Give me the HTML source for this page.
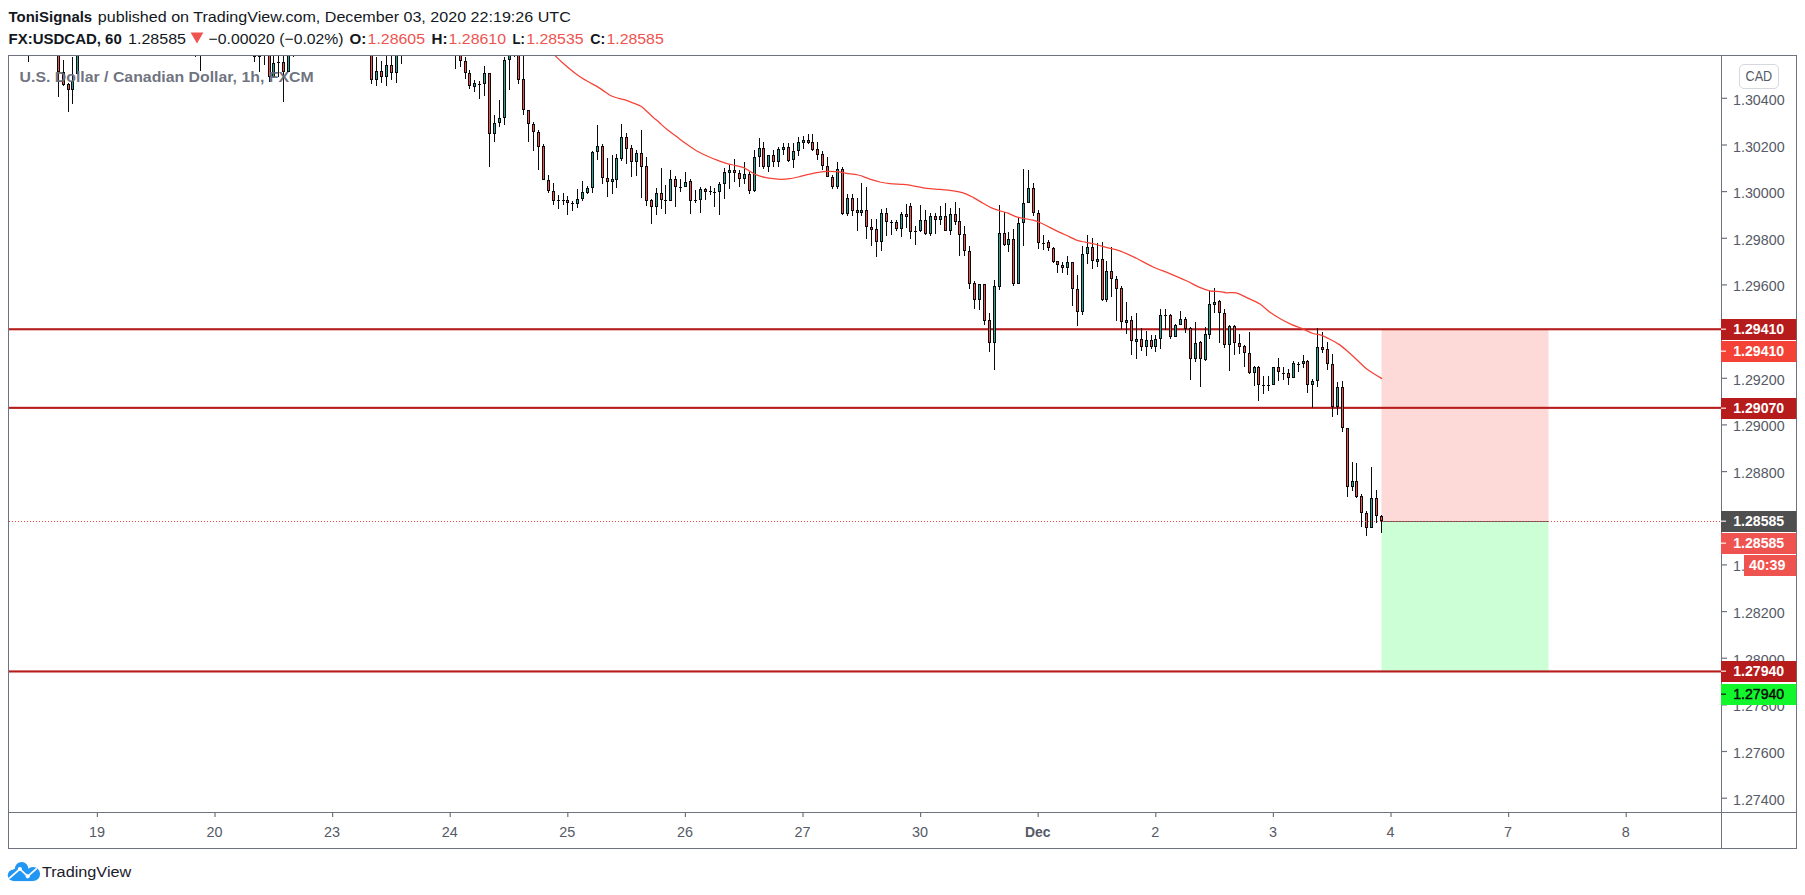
<!DOCTYPE html>
<html lang="en"><head><meta charset="utf-8"><title>USDCAD chart</title>
<style>html,body{margin:0;padding:0;background:#fff;}body{width:1805px;height:895px;overflow:hidden;}svg{display:block;}text{font-family:"Liberation Sans",sans-serif;}</style></head><body>
<svg width="1805" height="895" viewBox="0 0 1805 895">
<rect x="0" y="0" width="1805" height="895" fill="#fff"/>
<text x="8.6" y="22" font-size="15.0" fill="#131722" font-weight="bold" textLength="83.6" lengthAdjust="spacingAndGlyphs">ToniSignals</text>
<text x="97.8" y="22" font-size="15.0" fill="#131722" textLength="473" lengthAdjust="spacingAndGlyphs">published on TradingView.com, December 03, 2020 22:19:26 UTC</text>
<text x="8.6" y="43.5" font-size="15.0" fill="#131722" font-weight="bold" textLength="113.2" lengthAdjust="spacingAndGlyphs">FX:USDCAD, 60</text>
<text x="128" y="43.5" font-size="15.0" fill="#131722" textLength="58" lengthAdjust="spacingAndGlyphs">1.28585</text>
<path d="M190.6 32.6 L203.4 32.6 L197 43.6 Z" fill="#ef5350"/>
<text x="208.6" y="43.5" font-size="15.0" fill="#131722" textLength="135" lengthAdjust="spacingAndGlyphs">−0.00020 (−0.02%)</text>
<text x="349.4" y="43.5" font-size="15.0" fill="#131722" font-weight="bold" textLength="16.8" lengthAdjust="spacingAndGlyphs">O:</text>
<text x="367.6" y="43.5" font-size="15.0" fill="#ef5350" textLength="57.4" lengthAdjust="spacingAndGlyphs">1.28605</text>
<text x="431.6" y="43.5" font-size="15.0" fill="#131722" font-weight="bold" textLength="16.0" lengthAdjust="spacingAndGlyphs">H:</text>
<text x="448.6" y="43.5" font-size="15.0" fill="#ef5350" textLength="57.4" lengthAdjust="spacingAndGlyphs">1.28610</text>
<text x="512.6" y="43.5" font-size="15.0" fill="#131722" font-weight="bold" textLength="12.4" lengthAdjust="spacingAndGlyphs">L:</text>
<text x="526.2" y="43.5" font-size="15.0" fill="#ef5350" textLength="57.4" lengthAdjust="spacingAndGlyphs">1.28535</text>
<text x="590.2" y="43.5" font-size="15.0" fill="#131722" font-weight="bold" textLength="15.0" lengthAdjust="spacingAndGlyphs">C:</text>
<text x="606.4" y="43.5" font-size="15.0" fill="#ef5350" textLength="57.4" lengthAdjust="spacingAndGlyphs">1.28585</text>
<defs><clipPath id="pane"><rect x="9" y="56" width="1712" height="756"/></clipPath></defs>
<g clip-path="url(#pane)">
<rect x="1381.5" y="329" width="167" height="192" fill="#fdd9d7"/>
<rect x="1381.5" y="521" width="167" height="150" fill="#ccffd6"/>
<rect x="1381.5" y="521" width="167" height="1" fill="#5c5c5c"/>
<rect x="8" y="328.2" width="1714" height="2.1" fill="#b71c1c"/>
<rect x="8" y="406.8" width="1714" height="2.1" fill="#b71c1c"/>
<rect x="8" y="670.4" width="1714" height="2.1" fill="#b71c1c"/>
<g shape-rendering="crispEdges">
<rect x="28" y="40" width="1" height="22" fill="#0b0b0b"/>
<rect x="27" y="40" width="3" height="1" fill="#0b0b0b"/>
<rect x="58" y="40" width="1" height="57" fill="#0b0b0b"/>
<rect x="57" y="40" width="3" height="32" fill="#0b0b0b"/>
<rect x="58" y="41" width="1" height="30" fill="#ef5350"/>
<rect x="63" y="60" width="1" height="26" fill="#0b0b0b"/>
<rect x="62" y="72" width="3" height="13" fill="#0b0b0b"/>
<rect x="63" y="73" width="1" height="11" fill="#ef5350"/>
<rect x="68" y="83" width="1" height="29" fill="#0b0b0b"/>
<rect x="67" y="84" width="3" height="6" fill="#0b0b0b"/>
<rect x="68" y="85" width="1" height="4" fill="#ef5350"/>
<rect x="72" y="57" width="1" height="47" fill="#0b0b0b"/>
<rect x="71" y="81" width="3" height="9" fill="#0b0b0b"/>
<rect x="72" y="82" width="1" height="7" fill="#26a69a"/>
<rect x="77" y="40" width="1" height="34" fill="#0b0b0b"/>
<rect x="76" y="40" width="3" height="34" fill="#0b0b0b"/>
<rect x="77" y="41" width="1" height="32" fill="#26a69a"/>
<rect x="195" y="50" width="1" height="7" fill="#0b0b0b"/>
<rect x="194" y="50" width="3" height="1" fill="#0b0b0b"/>
<rect x="200" y="50" width="1" height="21" fill="#0b0b0b"/>
<rect x="199" y="50" width="3" height="1" fill="#0b0b0b"/>
<rect x="254" y="50" width="1" height="12" fill="#0b0b0b"/>
<rect x="253" y="50" width="3" height="7" fill="#0b0b0b"/>
<rect x="254" y="51" width="1" height="5" fill="#ef5350"/>
<rect x="259" y="50" width="1" height="22" fill="#0b0b0b"/>
<rect x="258" y="50" width="3" height="7" fill="#0b0b0b"/>
<rect x="259" y="51" width="1" height="5" fill="#26a69a"/>
<rect x="264" y="50" width="1" height="15" fill="#0b0b0b"/>
<rect x="263" y="50" width="3" height="1" fill="#0b0b0b"/>
<rect x="269" y="50" width="1" height="32" fill="#0b0b0b"/>
<rect x="268" y="50" width="3" height="27" fill="#0b0b0b"/>
<rect x="269" y="51" width="1" height="25" fill="#ef5350"/>
<rect x="273" y="55" width="1" height="22" fill="#0b0b0b"/>
<rect x="272" y="63" width="3" height="14" fill="#0b0b0b"/>
<rect x="273" y="64" width="1" height="12" fill="#26a69a"/>
<rect x="278" y="55" width="1" height="22" fill="#0b0b0b"/>
<rect x="277" y="62" width="3" height="1" fill="#0b0b0b"/>
<rect x="283" y="55" width="1" height="47" fill="#0b0b0b"/>
<rect x="282" y="62" width="3" height="10" fill="#0b0b0b"/>
<rect x="283" y="63" width="1" height="8" fill="#ef5350"/>
<rect x="288" y="50" width="1" height="22" fill="#0b0b0b"/>
<rect x="287" y="50" width="3" height="22" fill="#0b0b0b"/>
<rect x="288" y="51" width="1" height="20" fill="#26a69a"/>
<rect x="293" y="50" width="1" height="7" fill="#0b0b0b"/>
<rect x="292" y="50" width="3" height="1" fill="#0b0b0b"/>
<rect x="371" y="50" width="1" height="34" fill="#0b0b0b"/>
<rect x="370" y="50" width="3" height="30" fill="#0b0b0b"/>
<rect x="371" y="51" width="1" height="28" fill="#ef5350"/>
<rect x="376" y="57" width="1" height="29" fill="#0b0b0b"/>
<rect x="375" y="71" width="3" height="9" fill="#0b0b0b"/>
<rect x="376" y="72" width="1" height="7" fill="#26a69a"/>
<rect x="381" y="61" width="1" height="22" fill="#0b0b0b"/>
<rect x="380" y="71" width="3" height="6" fill="#0b0b0b"/>
<rect x="381" y="72" width="1" height="4" fill="#ef5350"/>
<rect x="386" y="55" width="1" height="31" fill="#0b0b0b"/>
<rect x="385" y="65" width="3" height="12" fill="#0b0b0b"/>
<rect x="386" y="66" width="1" height="10" fill="#26a69a"/>
<rect x="391" y="55" width="1" height="25" fill="#0b0b0b"/>
<rect x="390" y="65" width="3" height="8" fill="#0b0b0b"/>
<rect x="391" y="66" width="1" height="6" fill="#ef5350"/>
<rect x="396" y="50" width="1" height="33" fill="#0b0b0b"/>
<rect x="395" y="50" width="3" height="23" fill="#0b0b0b"/>
<rect x="396" y="51" width="1" height="21" fill="#26a69a"/>
<rect x="401" y="50" width="1" height="14" fill="#0b0b0b"/>
<rect x="400" y="50" width="3" height="1" fill="#0b0b0b"/>
<rect x="455" y="50" width="1" height="19" fill="#0b0b0b"/>
<rect x="454" y="50" width="3" height="1" fill="#0b0b0b"/>
<rect x="460" y="50" width="1" height="17" fill="#0b0b0b"/>
<rect x="459" y="50" width="3" height="11" fill="#0b0b0b"/>
<rect x="460" y="51" width="1" height="9" fill="#ef5350"/>
<rect x="465" y="57" width="1" height="22" fill="#0b0b0b"/>
<rect x="464" y="61" width="3" height="12" fill="#0b0b0b"/>
<rect x="465" y="62" width="1" height="10" fill="#ef5350"/>
<rect x="469" y="70" width="1" height="19" fill="#0b0b0b"/>
<rect x="468" y="73" width="3" height="13" fill="#0b0b0b"/>
<rect x="469" y="74" width="1" height="11" fill="#ef5350"/>
<rect x="474" y="80" width="1" height="12" fill="#0b0b0b"/>
<rect x="473" y="83" width="3" height="4" fill="#0b0b0b"/>
<rect x="474" y="84" width="1" height="2" fill="#26a69a"/>
<rect x="479" y="81" width="1" height="18" fill="#0b0b0b"/>
<rect x="478" y="84" width="3" height="1" fill="#0b0b0b"/>
<rect x="484" y="66" width="1" height="30" fill="#0b0b0b"/>
<rect x="483" y="73" width="3" height="11" fill="#0b0b0b"/>
<rect x="484" y="74" width="1" height="9" fill="#26a69a"/>
<rect x="489" y="73" width="1" height="94" fill="#0b0b0b"/>
<rect x="488" y="73" width="3" height="61" fill="#0b0b0b"/>
<rect x="489" y="74" width="1" height="59" fill="#ef5350"/>
<rect x="494" y="115" width="1" height="27" fill="#0b0b0b"/>
<rect x="493" y="123" width="3" height="11" fill="#0b0b0b"/>
<rect x="494" y="124" width="1" height="9" fill="#26a69a"/>
<rect x="499" y="100" width="1" height="27" fill="#0b0b0b"/>
<rect x="498" y="118" width="3" height="5" fill="#0b0b0b"/>
<rect x="499" y="119" width="1" height="3" fill="#26a69a"/>
<rect x="504" y="57" width="1" height="68" fill="#0b0b0b"/>
<rect x="503" y="60" width="3" height="58" fill="#0b0b0b"/>
<rect x="504" y="61" width="1" height="56" fill="#26a69a"/>
<rect x="509" y="50" width="1" height="40" fill="#0b0b0b"/>
<rect x="508" y="50" width="3" height="10" fill="#0b0b0b"/>
<rect x="509" y="51" width="1" height="8" fill="#26a69a"/>
<rect x="514" y="50" width="1" height="7" fill="#0b0b0b"/>
<rect x="513" y="50" width="3" height="1" fill="#0b0b0b"/>
<rect x="518" y="50" width="1" height="34" fill="#0b0b0b"/>
<rect x="517" y="50" width="3" height="30" fill="#0b0b0b"/>
<rect x="518" y="51" width="1" height="28" fill="#ef5350"/>
<rect x="523" y="55" width="1" height="60" fill="#0b0b0b"/>
<rect x="522" y="79" width="3" height="31" fill="#0b0b0b"/>
<rect x="523" y="80" width="1" height="29" fill="#ef5350"/>
<rect x="528" y="110" width="1" height="32" fill="#0b0b0b"/>
<rect x="527" y="110" width="3" height="14" fill="#0b0b0b"/>
<rect x="528" y="111" width="1" height="12" fill="#ef5350"/>
<rect x="533" y="122" width="1" height="29" fill="#0b0b0b"/>
<rect x="532" y="124" width="3" height="8" fill="#0b0b0b"/>
<rect x="533" y="125" width="1" height="6" fill="#ef5350"/>
<rect x="538" y="130" width="1" height="40" fill="#0b0b0b"/>
<rect x="537" y="132" width="3" height="15" fill="#0b0b0b"/>
<rect x="538" y="133" width="1" height="13" fill="#ef5350"/>
<rect x="543" y="144" width="1" height="36" fill="#0b0b0b"/>
<rect x="542" y="146" width="3" height="34" fill="#0b0b0b"/>
<rect x="543" y="147" width="1" height="32" fill="#ef5350"/>
<rect x="548" y="175" width="1" height="18" fill="#0b0b0b"/>
<rect x="547" y="180" width="3" height="11" fill="#0b0b0b"/>
<rect x="548" y="181" width="1" height="9" fill="#ef5350"/>
<rect x="553" y="183" width="1" height="22" fill="#0b0b0b"/>
<rect x="552" y="191" width="3" height="10" fill="#0b0b0b"/>
<rect x="553" y="192" width="1" height="8" fill="#ef5350"/>
<rect x="558" y="195" width="1" height="14" fill="#0b0b0b"/>
<rect x="557" y="200" width="3" height="1" fill="#0b0b0b"/>
<rect x="563" y="193" width="1" height="12" fill="#0b0b0b"/>
<rect x="562" y="200" width="3" height="1" fill="#0b0b0b"/>
<rect x="567" y="196" width="1" height="19" fill="#0b0b0b"/>
<rect x="566" y="200" width="3" height="3" fill="#0b0b0b"/>
<rect x="567" y="201" width="1" height="1" fill="#ef5350"/>
<rect x="572" y="201" width="1" height="10" fill="#0b0b0b"/>
<rect x="571" y="203" width="3" height="1" fill="#0b0b0b"/>
<rect x="577" y="189" width="1" height="19" fill="#0b0b0b"/>
<rect x="576" y="199" width="3" height="5" fill="#0b0b0b"/>
<rect x="577" y="200" width="1" height="3" fill="#26a69a"/>
<rect x="582" y="181" width="1" height="20" fill="#0b0b0b"/>
<rect x="581" y="192" width="3" height="7" fill="#0b0b0b"/>
<rect x="582" y="193" width="1" height="5" fill="#26a69a"/>
<rect x="587" y="186" width="1" height="8" fill="#0b0b0b"/>
<rect x="586" y="188" width="3" height="5" fill="#0b0b0b"/>
<rect x="587" y="189" width="1" height="3" fill="#26a69a"/>
<rect x="592" y="151" width="1" height="42" fill="#0b0b0b"/>
<rect x="591" y="152" width="3" height="36" fill="#0b0b0b"/>
<rect x="592" y="153" width="1" height="34" fill="#26a69a"/>
<rect x="597" y="125" width="1" height="35" fill="#0b0b0b"/>
<rect x="596" y="146" width="3" height="6" fill="#0b0b0b"/>
<rect x="597" y="147" width="1" height="4" fill="#26a69a"/>
<rect x="602" y="144" width="1" height="40" fill="#0b0b0b"/>
<rect x="601" y="146" width="3" height="32" fill="#0b0b0b"/>
<rect x="602" y="147" width="1" height="30" fill="#ef5350"/>
<rect x="607" y="158" width="1" height="39" fill="#0b0b0b"/>
<rect x="606" y="178" width="3" height="4" fill="#0b0b0b"/>
<rect x="607" y="179" width="1" height="2" fill="#ef5350"/>
<rect x="612" y="155" width="1" height="39" fill="#0b0b0b"/>
<rect x="611" y="179" width="3" height="3" fill="#0b0b0b"/>
<rect x="612" y="180" width="1" height="1" fill="#26a69a"/>
<rect x="616" y="154" width="1" height="34" fill="#0b0b0b"/>
<rect x="615" y="158" width="3" height="22" fill="#0b0b0b"/>
<rect x="616" y="159" width="1" height="20" fill="#26a69a"/>
<rect x="621" y="124" width="1" height="37" fill="#0b0b0b"/>
<rect x="620" y="137" width="3" height="22" fill="#0b0b0b"/>
<rect x="621" y="138" width="1" height="20" fill="#26a69a"/>
<rect x="626" y="133" width="1" height="31" fill="#0b0b0b"/>
<rect x="625" y="137" width="3" height="12" fill="#0b0b0b"/>
<rect x="626" y="138" width="1" height="10" fill="#ef5350"/>
<rect x="631" y="145" width="1" height="32" fill="#0b0b0b"/>
<rect x="630" y="148" width="3" height="14" fill="#0b0b0b"/>
<rect x="631" y="149" width="1" height="12" fill="#ef5350"/>
<rect x="636" y="150" width="1" height="26" fill="#0b0b0b"/>
<rect x="635" y="153" width="3" height="9" fill="#0b0b0b"/>
<rect x="636" y="154" width="1" height="7" fill="#26a69a"/>
<rect x="641" y="130" width="1" height="68" fill="#0b0b0b"/>
<rect x="640" y="153" width="3" height="14" fill="#0b0b0b"/>
<rect x="641" y="154" width="1" height="12" fill="#ef5350"/>
<rect x="646" y="157" width="1" height="49" fill="#0b0b0b"/>
<rect x="645" y="166" width="3" height="35" fill="#0b0b0b"/>
<rect x="646" y="167" width="1" height="33" fill="#ef5350"/>
<rect x="651" y="199" width="1" height="25" fill="#0b0b0b"/>
<rect x="650" y="200" width="3" height="7" fill="#0b0b0b"/>
<rect x="651" y="201" width="1" height="5" fill="#ef5350"/>
<rect x="656" y="188" width="1" height="27" fill="#0b0b0b"/>
<rect x="655" y="193" width="3" height="14" fill="#0b0b0b"/>
<rect x="656" y="194" width="1" height="12" fill="#26a69a"/>
<rect x="661" y="168" width="1" height="41" fill="#0b0b0b"/>
<rect x="660" y="193" width="3" height="7" fill="#0b0b0b"/>
<rect x="661" y="194" width="1" height="5" fill="#ef5350"/>
<rect x="665" y="185" width="1" height="29" fill="#0b0b0b"/>
<rect x="664" y="200" width="3" height="1" fill="#0b0b0b"/>
<rect x="670" y="170" width="1" height="31" fill="#0b0b0b"/>
<rect x="669" y="179" width="3" height="22" fill="#0b0b0b"/>
<rect x="670" y="180" width="1" height="20" fill="#26a69a"/>
<rect x="675" y="176" width="1" height="31" fill="#0b0b0b"/>
<rect x="674" y="179" width="3" height="8" fill="#0b0b0b"/>
<rect x="675" y="180" width="1" height="6" fill="#ef5350"/>
<rect x="680" y="179" width="1" height="13" fill="#0b0b0b"/>
<rect x="679" y="187" width="3" height="1" fill="#0b0b0b"/>
<rect x="685" y="172" width="1" height="15" fill="#0b0b0b"/>
<rect x="684" y="182" width="3" height="5" fill="#0b0b0b"/>
<rect x="685" y="183" width="1" height="3" fill="#26a69a"/>
<rect x="690" y="179" width="1" height="35" fill="#0b0b0b"/>
<rect x="689" y="181" width="3" height="20" fill="#0b0b0b"/>
<rect x="690" y="182" width="1" height="18" fill="#ef5350"/>
<rect x="695" y="190" width="1" height="13" fill="#0b0b0b"/>
<rect x="694" y="200" width="3" height="1" fill="#0b0b0b"/>
<rect x="700" y="187" width="1" height="26" fill="#0b0b0b"/>
<rect x="699" y="189" width="3" height="11" fill="#0b0b0b"/>
<rect x="700" y="190" width="1" height="9" fill="#26a69a"/>
<rect x="705" y="188" width="1" height="12" fill="#0b0b0b"/>
<rect x="704" y="189" width="3" height="3" fill="#0b0b0b"/>
<rect x="705" y="190" width="1" height="1" fill="#ef5350"/>
<rect x="710" y="186" width="1" height="9" fill="#0b0b0b"/>
<rect x="709" y="191" width="3" height="1" fill="#0b0b0b"/>
<rect x="714" y="188" width="1" height="19" fill="#0b0b0b"/>
<rect x="713" y="192" width="3" height="1" fill="#0b0b0b"/>
<rect x="719" y="182" width="1" height="33" fill="#0b0b0b"/>
<rect x="718" y="184" width="3" height="8" fill="#0b0b0b"/>
<rect x="719" y="185" width="1" height="6" fill="#26a69a"/>
<rect x="724" y="168" width="1" height="31" fill="#0b0b0b"/>
<rect x="723" y="172" width="3" height="12" fill="#0b0b0b"/>
<rect x="724" y="173" width="1" height="10" fill="#26a69a"/>
<rect x="729" y="165" width="1" height="24" fill="#0b0b0b"/>
<rect x="728" y="170" width="3" height="3" fill="#0b0b0b"/>
<rect x="729" y="171" width="1" height="1" fill="#26a69a"/>
<rect x="734" y="159" width="1" height="23" fill="#0b0b0b"/>
<rect x="733" y="170" width="3" height="3" fill="#0b0b0b"/>
<rect x="734" y="171" width="1" height="1" fill="#ef5350"/>
<rect x="739" y="170" width="1" height="17" fill="#0b0b0b"/>
<rect x="738" y="173" width="3" height="6" fill="#0b0b0b"/>
<rect x="739" y="174" width="1" height="4" fill="#ef5350"/>
<rect x="744" y="162" width="1" height="22" fill="#0b0b0b"/>
<rect x="743" y="174" width="3" height="5" fill="#0b0b0b"/>
<rect x="744" y="175" width="1" height="3" fill="#26a69a"/>
<rect x="749" y="172" width="1" height="22" fill="#0b0b0b"/>
<rect x="748" y="174" width="3" height="17" fill="#0b0b0b"/>
<rect x="749" y="175" width="1" height="15" fill="#ef5350"/>
<rect x="754" y="150" width="1" height="42" fill="#0b0b0b"/>
<rect x="753" y="157" width="3" height="34" fill="#0b0b0b"/>
<rect x="754" y="158" width="1" height="32" fill="#26a69a"/>
<rect x="759" y="138" width="1" height="29" fill="#0b0b0b"/>
<rect x="758" y="148" width="3" height="9" fill="#0b0b0b"/>
<rect x="759" y="149" width="1" height="7" fill="#26a69a"/>
<rect x="763" y="142" width="1" height="27" fill="#0b0b0b"/>
<rect x="762" y="148" width="3" height="19" fill="#0b0b0b"/>
<rect x="763" y="149" width="1" height="17" fill="#ef5350"/>
<rect x="768" y="155" width="1" height="17" fill="#0b0b0b"/>
<rect x="767" y="155" width="3" height="12" fill="#0b0b0b"/>
<rect x="768" y="156" width="1" height="10" fill="#26a69a"/>
<rect x="773" y="150" width="1" height="17" fill="#0b0b0b"/>
<rect x="772" y="155" width="3" height="7" fill="#0b0b0b"/>
<rect x="773" y="156" width="1" height="5" fill="#ef5350"/>
<rect x="778" y="147" width="1" height="20" fill="#0b0b0b"/>
<rect x="777" y="149" width="3" height="13" fill="#0b0b0b"/>
<rect x="778" y="150" width="1" height="11" fill="#26a69a"/>
<rect x="783" y="143" width="1" height="12" fill="#0b0b0b"/>
<rect x="782" y="147" width="3" height="3" fill="#0b0b0b"/>
<rect x="783" y="148" width="1" height="1" fill="#26a69a"/>
<rect x="788" y="143" width="1" height="19" fill="#0b0b0b"/>
<rect x="787" y="147" width="3" height="14" fill="#0b0b0b"/>
<rect x="788" y="148" width="1" height="12" fill="#ef5350"/>
<rect x="793" y="143" width="1" height="25" fill="#0b0b0b"/>
<rect x="792" y="151" width="3" height="9" fill="#0b0b0b"/>
<rect x="793" y="152" width="1" height="7" fill="#26a69a"/>
<rect x="798" y="137" width="1" height="19" fill="#0b0b0b"/>
<rect x="797" y="142" width="3" height="9" fill="#0b0b0b"/>
<rect x="798" y="143" width="1" height="7" fill="#26a69a"/>
<rect x="803" y="136" width="1" height="13" fill="#0b0b0b"/>
<rect x="802" y="140" width="3" height="3" fill="#0b0b0b"/>
<rect x="803" y="141" width="1" height="1" fill="#26a69a"/>
<rect x="808" y="134" width="1" height="10" fill="#0b0b0b"/>
<rect x="807" y="140" width="3" height="3" fill="#0b0b0b"/>
<rect x="808" y="141" width="1" height="1" fill="#ef5350"/>
<rect x="812" y="134" width="1" height="17" fill="#0b0b0b"/>
<rect x="811" y="142" width="3" height="8" fill="#0b0b0b"/>
<rect x="812" y="143" width="1" height="6" fill="#ef5350"/>
<rect x="817" y="142" width="1" height="18" fill="#0b0b0b"/>
<rect x="816" y="149" width="3" height="6" fill="#0b0b0b"/>
<rect x="817" y="150" width="1" height="4" fill="#ef5350"/>
<rect x="822" y="151" width="1" height="19" fill="#0b0b0b"/>
<rect x="821" y="154" width="3" height="12" fill="#0b0b0b"/>
<rect x="822" y="155" width="1" height="10" fill="#ef5350"/>
<rect x="827" y="157" width="1" height="20" fill="#0b0b0b"/>
<rect x="826" y="166" width="3" height="11" fill="#0b0b0b"/>
<rect x="827" y="167" width="1" height="9" fill="#ef5350"/>
<rect x="832" y="175" width="1" height="14" fill="#0b0b0b"/>
<rect x="831" y="177" width="3" height="10" fill="#0b0b0b"/>
<rect x="832" y="178" width="1" height="8" fill="#ef5350"/>
<rect x="837" y="162" width="1" height="27" fill="#0b0b0b"/>
<rect x="836" y="169" width="3" height="18" fill="#0b0b0b"/>
<rect x="837" y="170" width="1" height="16" fill="#26a69a"/>
<rect x="842" y="167" width="1" height="48" fill="#0b0b0b"/>
<rect x="841" y="169" width="3" height="45" fill="#0b0b0b"/>
<rect x="842" y="170" width="1" height="43" fill="#ef5350"/>
<rect x="847" y="194" width="1" height="22" fill="#0b0b0b"/>
<rect x="846" y="198" width="3" height="16" fill="#0b0b0b"/>
<rect x="847" y="199" width="1" height="14" fill="#26a69a"/>
<rect x="852" y="194" width="1" height="22" fill="#0b0b0b"/>
<rect x="851" y="198" width="3" height="13" fill="#0b0b0b"/>
<rect x="852" y="199" width="1" height="11" fill="#ef5350"/>
<rect x="857" y="198" width="1" height="33" fill="#0b0b0b"/>
<rect x="856" y="210" width="3" height="3" fill="#0b0b0b"/>
<rect x="857" y="211" width="1" height="1" fill="#ef5350"/>
<rect x="861" y="183" width="1" height="33" fill="#0b0b0b"/>
<rect x="860" y="210" width="3" height="3" fill="#0b0b0b"/>
<rect x="861" y="211" width="1" height="1" fill="#26a69a"/>
<rect x="866" y="187" width="1" height="52" fill="#0b0b0b"/>
<rect x="865" y="210" width="3" height="17" fill="#0b0b0b"/>
<rect x="866" y="211" width="1" height="15" fill="#ef5350"/>
<rect x="871" y="219" width="1" height="27" fill="#0b0b0b"/>
<rect x="870" y="227" width="3" height="3" fill="#0b0b0b"/>
<rect x="871" y="228" width="1" height="1" fill="#ef5350"/>
<rect x="876" y="219" width="1" height="38" fill="#0b0b0b"/>
<rect x="875" y="229" width="3" height="13" fill="#0b0b0b"/>
<rect x="876" y="230" width="1" height="11" fill="#ef5350"/>
<rect x="881" y="209" width="1" height="42" fill="#0b0b0b"/>
<rect x="880" y="213" width="3" height="29" fill="#0b0b0b"/>
<rect x="881" y="214" width="1" height="27" fill="#26a69a"/>
<rect x="886" y="208" width="1" height="28" fill="#0b0b0b"/>
<rect x="885" y="213" width="3" height="9" fill="#0b0b0b"/>
<rect x="886" y="214" width="1" height="7" fill="#ef5350"/>
<rect x="891" y="220" width="1" height="15" fill="#0b0b0b"/>
<rect x="890" y="222" width="3" height="1" fill="#0b0b0b"/>
<rect x="896" y="220" width="1" height="11" fill="#0b0b0b"/>
<rect x="895" y="222" width="3" height="7" fill="#0b0b0b"/>
<rect x="896" y="223" width="1" height="5" fill="#ef5350"/>
<rect x="901" y="212" width="1" height="25" fill="#0b0b0b"/>
<rect x="900" y="214" width="3" height="15" fill="#0b0b0b"/>
<rect x="901" y="215" width="1" height="13" fill="#26a69a"/>
<rect x="906" y="204" width="1" height="24" fill="#0b0b0b"/>
<rect x="905" y="214" width="3" height="3" fill="#0b0b0b"/>
<rect x="906" y="215" width="1" height="1" fill="#ef5350"/>
<rect x="910" y="203" width="1" height="36" fill="#0b0b0b"/>
<rect x="909" y="206" width="3" height="26" fill="#0b0b0b"/>
<rect x="910" y="207" width="1" height="24" fill="#ef5350"/>
<rect x="915" y="226" width="1" height="19" fill="#0b0b0b"/>
<rect x="914" y="231" width="3" height="1" fill="#0b0b0b"/>
<rect x="920" y="205" width="1" height="27" fill="#0b0b0b"/>
<rect x="919" y="220" width="3" height="11" fill="#0b0b0b"/>
<rect x="920" y="221" width="1" height="9" fill="#26a69a"/>
<rect x="925" y="210" width="1" height="25" fill="#0b0b0b"/>
<rect x="924" y="220" width="3" height="14" fill="#0b0b0b"/>
<rect x="925" y="221" width="1" height="12" fill="#ef5350"/>
<rect x="930" y="213" width="1" height="23" fill="#0b0b0b"/>
<rect x="929" y="216" width="3" height="18" fill="#0b0b0b"/>
<rect x="930" y="217" width="1" height="16" fill="#26a69a"/>
<rect x="935" y="213" width="1" height="21" fill="#0b0b0b"/>
<rect x="934" y="216" width="3" height="4" fill="#0b0b0b"/>
<rect x="935" y="217" width="1" height="2" fill="#ef5350"/>
<rect x="940" y="206" width="1" height="19" fill="#0b0b0b"/>
<rect x="939" y="216" width="3" height="4" fill="#0b0b0b"/>
<rect x="940" y="217" width="1" height="2" fill="#26a69a"/>
<rect x="945" y="203" width="1" height="28" fill="#0b0b0b"/>
<rect x="944" y="216" width="3" height="15" fill="#0b0b0b"/>
<rect x="945" y="217" width="1" height="13" fill="#ef5350"/>
<rect x="950" y="208" width="1" height="27" fill="#0b0b0b"/>
<rect x="949" y="214" width="3" height="17" fill="#0b0b0b"/>
<rect x="950" y="215" width="1" height="15" fill="#26a69a"/>
<rect x="955" y="202" width="1" height="23" fill="#0b0b0b"/>
<rect x="954" y="214" width="3" height="8" fill="#0b0b0b"/>
<rect x="955" y="215" width="1" height="6" fill="#ef5350"/>
<rect x="959" y="208" width="1" height="48" fill="#0b0b0b"/>
<rect x="958" y="221" width="3" height="14" fill="#0b0b0b"/>
<rect x="959" y="222" width="1" height="12" fill="#ef5350"/>
<rect x="964" y="226" width="1" height="30" fill="#0b0b0b"/>
<rect x="963" y="234" width="3" height="17" fill="#0b0b0b"/>
<rect x="964" y="235" width="1" height="15" fill="#ef5350"/>
<rect x="969" y="246" width="1" height="43" fill="#0b0b0b"/>
<rect x="968" y="251" width="3" height="33" fill="#0b0b0b"/>
<rect x="969" y="252" width="1" height="31" fill="#ef5350"/>
<rect x="974" y="281" width="1" height="28" fill="#0b0b0b"/>
<rect x="973" y="283" width="3" height="17" fill="#0b0b0b"/>
<rect x="974" y="284" width="1" height="15" fill="#ef5350"/>
<rect x="979" y="284" width="1" height="26" fill="#0b0b0b"/>
<rect x="978" y="284" width="3" height="16" fill="#0b0b0b"/>
<rect x="979" y="285" width="1" height="14" fill="#26a69a"/>
<rect x="984" y="284" width="1" height="41" fill="#0b0b0b"/>
<rect x="983" y="284" width="3" height="37" fill="#0b0b0b"/>
<rect x="984" y="285" width="1" height="35" fill="#ef5350"/>
<rect x="989" y="313" width="1" height="39" fill="#0b0b0b"/>
<rect x="988" y="320" width="3" height="23" fill="#0b0b0b"/>
<rect x="989" y="321" width="1" height="21" fill="#ef5350"/>
<rect x="994" y="280" width="1" height="90" fill="#0b0b0b"/>
<rect x="993" y="286" width="3" height="57" fill="#0b0b0b"/>
<rect x="994" y="287" width="1" height="55" fill="#26a69a"/>
<rect x="999" y="205" width="1" height="85" fill="#0b0b0b"/>
<rect x="998" y="233" width="3" height="54" fill="#0b0b0b"/>
<rect x="999" y="234" width="1" height="52" fill="#26a69a"/>
<rect x="1004" y="212" width="1" height="34" fill="#0b0b0b"/>
<rect x="1003" y="233" width="3" height="12" fill="#0b0b0b"/>
<rect x="1004" y="234" width="1" height="10" fill="#ef5350"/>
<rect x="1008" y="232" width="1" height="20" fill="#0b0b0b"/>
<rect x="1007" y="239" width="3" height="6" fill="#0b0b0b"/>
<rect x="1008" y="240" width="1" height="4" fill="#26a69a"/>
<rect x="1013" y="229" width="1" height="57" fill="#0b0b0b"/>
<rect x="1012" y="239" width="3" height="45" fill="#0b0b0b"/>
<rect x="1013" y="240" width="1" height="43" fill="#ef5350"/>
<rect x="1018" y="218" width="1" height="66" fill="#0b0b0b"/>
<rect x="1017" y="223" width="3" height="61" fill="#0b0b0b"/>
<rect x="1018" y="224" width="1" height="59" fill="#26a69a"/>
<rect x="1023" y="169" width="1" height="77" fill="#0b0b0b"/>
<rect x="1022" y="203" width="3" height="20" fill="#0b0b0b"/>
<rect x="1023" y="204" width="1" height="18" fill="#26a69a"/>
<rect x="1028" y="170" width="1" height="33" fill="#0b0b0b"/>
<rect x="1027" y="188" width="3" height="15" fill="#0b0b0b"/>
<rect x="1028" y="189" width="1" height="13" fill="#26a69a"/>
<rect x="1033" y="183" width="1" height="33" fill="#0b0b0b"/>
<rect x="1032" y="188" width="3" height="25" fill="#0b0b0b"/>
<rect x="1033" y="189" width="1" height="23" fill="#ef5350"/>
<rect x="1038" y="210" width="1" height="39" fill="#0b0b0b"/>
<rect x="1037" y="213" width="3" height="30" fill="#0b0b0b"/>
<rect x="1038" y="214" width="1" height="28" fill="#ef5350"/>
<rect x="1043" y="235" width="1" height="15" fill="#0b0b0b"/>
<rect x="1042" y="243" width="3" height="1" fill="#0b0b0b"/>
<rect x="1048" y="240" width="1" height="11" fill="#0b0b0b"/>
<rect x="1047" y="242" width="3" height="6" fill="#0b0b0b"/>
<rect x="1048" y="243" width="1" height="4" fill="#ef5350"/>
<rect x="1053" y="247" width="1" height="16" fill="#0b0b0b"/>
<rect x="1052" y="248" width="3" height="14" fill="#0b0b0b"/>
<rect x="1053" y="249" width="1" height="12" fill="#ef5350"/>
<rect x="1057" y="261" width="1" height="12" fill="#0b0b0b"/>
<rect x="1056" y="261" width="3" height="4" fill="#0b0b0b"/>
<rect x="1057" y="262" width="1" height="2" fill="#ef5350"/>
<rect x="1062" y="262" width="1" height="11" fill="#0b0b0b"/>
<rect x="1061" y="265" width="3" height="3" fill="#0b0b0b"/>
<rect x="1062" y="266" width="1" height="1" fill="#ef5350"/>
<rect x="1067" y="256" width="1" height="19" fill="#0b0b0b"/>
<rect x="1066" y="262" width="3" height="6" fill="#0b0b0b"/>
<rect x="1067" y="263" width="1" height="4" fill="#26a69a"/>
<rect x="1072" y="262" width="1" height="44" fill="#0b0b0b"/>
<rect x="1071" y="262" width="3" height="27" fill="#0b0b0b"/>
<rect x="1072" y="263" width="1" height="25" fill="#ef5350"/>
<rect x="1077" y="275" width="1" height="51" fill="#0b0b0b"/>
<rect x="1076" y="289" width="3" height="23" fill="#0b0b0b"/>
<rect x="1077" y="290" width="1" height="21" fill="#ef5350"/>
<rect x="1082" y="246" width="1" height="69" fill="#0b0b0b"/>
<rect x="1081" y="254" width="3" height="58" fill="#0b0b0b"/>
<rect x="1082" y="255" width="1" height="56" fill="#26a69a"/>
<rect x="1087" y="235" width="1" height="29" fill="#0b0b0b"/>
<rect x="1086" y="247" width="3" height="7" fill="#0b0b0b"/>
<rect x="1087" y="248" width="1" height="5" fill="#26a69a"/>
<rect x="1092" y="238" width="1" height="31" fill="#0b0b0b"/>
<rect x="1091" y="247" width="3" height="14" fill="#0b0b0b"/>
<rect x="1092" y="248" width="1" height="12" fill="#ef5350"/>
<rect x="1097" y="243" width="1" height="24" fill="#0b0b0b"/>
<rect x="1096" y="259" width="3" height="3" fill="#0b0b0b"/>
<rect x="1097" y="260" width="1" height="1" fill="#26a69a"/>
<rect x="1102" y="242" width="1" height="59" fill="#0b0b0b"/>
<rect x="1101" y="259" width="3" height="41" fill="#0b0b0b"/>
<rect x="1102" y="260" width="1" height="39" fill="#ef5350"/>
<rect x="1106" y="261" width="1" height="41" fill="#0b0b0b"/>
<rect x="1105" y="271" width="3" height="29" fill="#0b0b0b"/>
<rect x="1106" y="272" width="1" height="27" fill="#26a69a"/>
<rect x="1111" y="247" width="1" height="50" fill="#0b0b0b"/>
<rect x="1110" y="271" width="3" height="8" fill="#0b0b0b"/>
<rect x="1111" y="272" width="1" height="6" fill="#ef5350"/>
<rect x="1116" y="276" width="1" height="45" fill="#0b0b0b"/>
<rect x="1115" y="279" width="3" height="10" fill="#0b0b0b"/>
<rect x="1116" y="280" width="1" height="8" fill="#ef5350"/>
<rect x="1121" y="286" width="1" height="43" fill="#0b0b0b"/>
<rect x="1120" y="288" width="3" height="34" fill="#0b0b0b"/>
<rect x="1121" y="289" width="1" height="32" fill="#ef5350"/>
<rect x="1126" y="302" width="1" height="32" fill="#0b0b0b"/>
<rect x="1125" y="320" width="3" height="3" fill="#0b0b0b"/>
<rect x="1126" y="321" width="1" height="1" fill="#26a69a"/>
<rect x="1131" y="316" width="1" height="39" fill="#0b0b0b"/>
<rect x="1130" y="320" width="3" height="21" fill="#0b0b0b"/>
<rect x="1131" y="321" width="1" height="19" fill="#ef5350"/>
<rect x="1136" y="313" width="1" height="46" fill="#0b0b0b"/>
<rect x="1135" y="339" width="3" height="3" fill="#0b0b0b"/>
<rect x="1136" y="340" width="1" height="1" fill="#26a69a"/>
<rect x="1141" y="328" width="1" height="23" fill="#0b0b0b"/>
<rect x="1140" y="339" width="3" height="8" fill="#0b0b0b"/>
<rect x="1141" y="340" width="1" height="6" fill="#ef5350"/>
<rect x="1146" y="331" width="1" height="25" fill="#0b0b0b"/>
<rect x="1145" y="340" width="3" height="7" fill="#0b0b0b"/>
<rect x="1146" y="341" width="1" height="5" fill="#26a69a"/>
<rect x="1151" y="335" width="1" height="14" fill="#0b0b0b"/>
<rect x="1150" y="340" width="3" height="7" fill="#0b0b0b"/>
<rect x="1151" y="341" width="1" height="5" fill="#ef5350"/>
<rect x="1155" y="335" width="1" height="17" fill="#0b0b0b"/>
<rect x="1154" y="339" width="3" height="8" fill="#0b0b0b"/>
<rect x="1155" y="340" width="1" height="6" fill="#26a69a"/>
<rect x="1160" y="309" width="1" height="40" fill="#0b0b0b"/>
<rect x="1159" y="315" width="3" height="24" fill="#0b0b0b"/>
<rect x="1160" y="316" width="1" height="22" fill="#26a69a"/>
<rect x="1165" y="309" width="1" height="21" fill="#0b0b0b"/>
<rect x="1164" y="315" width="3" height="1" fill="#0b0b0b"/>
<rect x="1170" y="314" width="1" height="25" fill="#0b0b0b"/>
<rect x="1169" y="315" width="3" height="22" fill="#0b0b0b"/>
<rect x="1170" y="316" width="1" height="20" fill="#ef5350"/>
<rect x="1175" y="324" width="1" height="13" fill="#0b0b0b"/>
<rect x="1174" y="325" width="3" height="12" fill="#0b0b0b"/>
<rect x="1175" y="326" width="1" height="10" fill="#26a69a"/>
<rect x="1180" y="311" width="1" height="14" fill="#0b0b0b"/>
<rect x="1179" y="319" width="3" height="6" fill="#0b0b0b"/>
<rect x="1180" y="320" width="1" height="4" fill="#26a69a"/>
<rect x="1185" y="317" width="1" height="16" fill="#0b0b0b"/>
<rect x="1184" y="319" width="3" height="10" fill="#0b0b0b"/>
<rect x="1185" y="320" width="1" height="8" fill="#ef5350"/>
<rect x="1190" y="327" width="1" height="53" fill="#0b0b0b"/>
<rect x="1189" y="328" width="3" height="31" fill="#0b0b0b"/>
<rect x="1190" y="329" width="1" height="29" fill="#ef5350"/>
<rect x="1195" y="322" width="1" height="40" fill="#0b0b0b"/>
<rect x="1194" y="343" width="3" height="16" fill="#0b0b0b"/>
<rect x="1195" y="344" width="1" height="14" fill="#26a69a"/>
<rect x="1200" y="341" width="1" height="46" fill="#0b0b0b"/>
<rect x="1199" y="342" width="3" height="17" fill="#0b0b0b"/>
<rect x="1200" y="343" width="1" height="15" fill="#ef5350"/>
<rect x="1205" y="327" width="1" height="34" fill="#0b0b0b"/>
<rect x="1204" y="334" width="3" height="26" fill="#0b0b0b"/>
<rect x="1205" y="335" width="1" height="24" fill="#26a69a"/>
<rect x="1209" y="291" width="1" height="48" fill="#0b0b0b"/>
<rect x="1208" y="304" width="3" height="31" fill="#0b0b0b"/>
<rect x="1209" y="305" width="1" height="29" fill="#26a69a"/>
<rect x="1214" y="288" width="1" height="25" fill="#0b0b0b"/>
<rect x="1213" y="302" width="3" height="3" fill="#0b0b0b"/>
<rect x="1214" y="303" width="1" height="1" fill="#26a69a"/>
<rect x="1219" y="300" width="1" height="43" fill="#0b0b0b"/>
<rect x="1218" y="301" width="3" height="12" fill="#0b0b0b"/>
<rect x="1219" y="302" width="1" height="10" fill="#ef5350"/>
<rect x="1224" y="309" width="1" height="39" fill="#0b0b0b"/>
<rect x="1223" y="313" width="3" height="32" fill="#0b0b0b"/>
<rect x="1224" y="314" width="1" height="30" fill="#ef5350"/>
<rect x="1229" y="325" width="1" height="46" fill="#0b0b0b"/>
<rect x="1228" y="326" width="3" height="19" fill="#0b0b0b"/>
<rect x="1229" y="327" width="1" height="17" fill="#26a69a"/>
<rect x="1234" y="325" width="1" height="30" fill="#0b0b0b"/>
<rect x="1233" y="326" width="3" height="17" fill="#0b0b0b"/>
<rect x="1234" y="327" width="1" height="15" fill="#ef5350"/>
<rect x="1239" y="334" width="1" height="20" fill="#0b0b0b"/>
<rect x="1238" y="343" width="3" height="4" fill="#0b0b0b"/>
<rect x="1239" y="344" width="1" height="2" fill="#ef5350"/>
<rect x="1244" y="345" width="1" height="22" fill="#0b0b0b"/>
<rect x="1243" y="346" width="3" height="7" fill="#0b0b0b"/>
<rect x="1244" y="347" width="1" height="5" fill="#ef5350"/>
<rect x="1249" y="332" width="1" height="42" fill="#0b0b0b"/>
<rect x="1248" y="353" width="3" height="20" fill="#0b0b0b"/>
<rect x="1249" y="354" width="1" height="18" fill="#ef5350"/>
<rect x="1254" y="366" width="1" height="20" fill="#0b0b0b"/>
<rect x="1253" y="367" width="3" height="6" fill="#0b0b0b"/>
<rect x="1254" y="368" width="1" height="4" fill="#26a69a"/>
<rect x="1258" y="366" width="1" height="35" fill="#0b0b0b"/>
<rect x="1257" y="367" width="3" height="18" fill="#0b0b0b"/>
<rect x="1258" y="368" width="1" height="16" fill="#ef5350"/>
<rect x="1263" y="376" width="1" height="18" fill="#0b0b0b"/>
<rect x="1262" y="385" width="3" height="1" fill="#0b0b0b"/>
<rect x="1268" y="376" width="1" height="15" fill="#0b0b0b"/>
<rect x="1267" y="385" width="3" height="1" fill="#0b0b0b"/>
<rect x="1273" y="367" width="1" height="18" fill="#0b0b0b"/>
<rect x="1272" y="367" width="3" height="18" fill="#0b0b0b"/>
<rect x="1273" y="368" width="1" height="16" fill="#26a69a"/>
<rect x="1278" y="358" width="1" height="23" fill="#0b0b0b"/>
<rect x="1277" y="367" width="3" height="5" fill="#0b0b0b"/>
<rect x="1278" y="368" width="1" height="3" fill="#ef5350"/>
<rect x="1283" y="367" width="1" height="13" fill="#0b0b0b"/>
<rect x="1282" y="373" width="3" height="1" fill="#0b0b0b"/>
<rect x="1288" y="369" width="1" height="16" fill="#0b0b0b"/>
<rect x="1287" y="373" width="3" height="5" fill="#0b0b0b"/>
<rect x="1288" y="374" width="1" height="3" fill="#ef5350"/>
<rect x="1293" y="361" width="1" height="17" fill="#0b0b0b"/>
<rect x="1292" y="363" width="3" height="15" fill="#0b0b0b"/>
<rect x="1293" y="364" width="1" height="13" fill="#26a69a"/>
<rect x="1298" y="362" width="1" height="10" fill="#0b0b0b"/>
<rect x="1297" y="364" width="3" height="1" fill="#0b0b0b"/>
<rect x="1303" y="355" width="1" height="13" fill="#0b0b0b"/>
<rect x="1302" y="361" width="3" height="3" fill="#0b0b0b"/>
<rect x="1303" y="362" width="1" height="1" fill="#26a69a"/>
<rect x="1307" y="360" width="1" height="33" fill="#0b0b0b"/>
<rect x="1306" y="361" width="3" height="24" fill="#0b0b0b"/>
<rect x="1307" y="362" width="1" height="22" fill="#ef5350"/>
<rect x="1312" y="379" width="1" height="29" fill="#0b0b0b"/>
<rect x="1311" y="381" width="3" height="4" fill="#0b0b0b"/>
<rect x="1312" y="382" width="1" height="2" fill="#26a69a"/>
<rect x="1317" y="328" width="1" height="59" fill="#0b0b0b"/>
<rect x="1316" y="347" width="3" height="34" fill="#0b0b0b"/>
<rect x="1317" y="348" width="1" height="32" fill="#26a69a"/>
<rect x="1322" y="332" width="1" height="21" fill="#0b0b0b"/>
<rect x="1321" y="347" width="3" height="3" fill="#0b0b0b"/>
<rect x="1322" y="348" width="1" height="1" fill="#ef5350"/>
<rect x="1327" y="342" width="1" height="28" fill="#0b0b0b"/>
<rect x="1326" y="349" width="3" height="15" fill="#0b0b0b"/>
<rect x="1327" y="350" width="1" height="13" fill="#ef5350"/>
<rect x="1332" y="354" width="1" height="63" fill="#0b0b0b"/>
<rect x="1331" y="364" width="3" height="43" fill="#0b0b0b"/>
<rect x="1332" y="365" width="1" height="41" fill="#ef5350"/>
<rect x="1337" y="382" width="1" height="33" fill="#0b0b0b"/>
<rect x="1336" y="387" width="3" height="20" fill="#0b0b0b"/>
<rect x="1337" y="388" width="1" height="18" fill="#26a69a"/>
<rect x="1342" y="381" width="1" height="51" fill="#0b0b0b"/>
<rect x="1341" y="387" width="3" height="41" fill="#0b0b0b"/>
<rect x="1342" y="388" width="1" height="39" fill="#ef5350"/>
<rect x="1347" y="428" width="1" height="69" fill="#0b0b0b"/>
<rect x="1346" y="428" width="3" height="59" fill="#0b0b0b"/>
<rect x="1347" y="429" width="1" height="57" fill="#ef5350"/>
<rect x="1352" y="462" width="1" height="29" fill="#0b0b0b"/>
<rect x="1351" y="481" width="3" height="6" fill="#0b0b0b"/>
<rect x="1352" y="482" width="1" height="4" fill="#26a69a"/>
<rect x="1356" y="463" width="1" height="35" fill="#0b0b0b"/>
<rect x="1355" y="481" width="3" height="16" fill="#0b0b0b"/>
<rect x="1356" y="482" width="1" height="14" fill="#ef5350"/>
<rect x="1361" y="494" width="1" height="33" fill="#0b0b0b"/>
<rect x="1360" y="496" width="3" height="17" fill="#0b0b0b"/>
<rect x="1361" y="497" width="1" height="15" fill="#ef5350"/>
<rect x="1366" y="511" width="1" height="25" fill="#0b0b0b"/>
<rect x="1365" y="513" width="3" height="15" fill="#0b0b0b"/>
<rect x="1366" y="514" width="1" height="13" fill="#ef5350"/>
<rect x="1371" y="467" width="1" height="61" fill="#0b0b0b"/>
<rect x="1370" y="498" width="3" height="30" fill="#0b0b0b"/>
<rect x="1371" y="499" width="1" height="28" fill="#26a69a"/>
<rect x="1376" y="490" width="1" height="33" fill="#0b0b0b"/>
<rect x="1375" y="498" width="3" height="18" fill="#0b0b0b"/>
<rect x="1376" y="499" width="1" height="16" fill="#ef5350"/>
<rect x="1381" y="515" width="1" height="18" fill="#0b0b0b"/>
<rect x="1380" y="516" width="3" height="5" fill="#0b0b0b"/>
<rect x="1381" y="517" width="1" height="3" fill="#ef5350"/>
</g>
<path fill="none" stroke="#f44336" stroke-width="1.25" stroke-linejoin="round" d="M555.2 55.8 C556.4 56.9 560.0 60.4 562.3 62.5 C564.7 64.7 567.0 66.7 569.5 68.8 C572.0 70.9 574.6 72.9 577.5 75.0 C580.5 77.1 584.1 79.3 587.4 81.3 C590.6 83.2 594.2 84.9 597.2 86.6 C600.2 88.4 602.9 90.4 605.2 92.0 C607.6 93.6 609.3 95.0 611.5 96.0 C613.7 97.1 616.3 97.6 618.6 98.3 C621.0 99.0 623.4 99.4 625.8 100.2 C628.2 101.0 630.4 101.9 632.9 102.9 C635.5 103.9 638.6 104.8 641.0 106.3 C643.4 107.8 645.0 109.7 647.2 111.7 C649.5 113.7 652.8 117.0 654.4 118.4 C655.9 119.8 655.3 118.9 656.5 120.0 C657.7 121.0 659.9 123.1 661.5 124.6 C663.2 126.1 664.0 127.1 666.5 129.1 C669.0 131.1 673.2 134.1 676.5 136.6 C679.8 139.1 683.2 141.8 686.5 144.1 C689.8 146.5 693.2 148.8 696.5 150.8 C699.8 152.7 703.1 154.2 706.5 155.8 C709.8 157.3 713.1 158.7 716.5 159.9 C719.8 161.2 723.4 162.3 726.4 163.3 C729.5 164.2 732.0 164.7 734.8 165.4 C737.5 166.1 740.6 166.5 743.1 167.4 C745.6 168.4 747.5 170.0 749.8 171.3 C752.0 172.5 753.9 173.9 756.4 174.9 C758.9 175.9 762.0 176.8 764.7 177.4 C767.5 178.0 770.3 178.4 773.1 178.7 C775.8 179.1 778.6 179.4 781.4 179.4 C784.2 179.4 786.7 179.2 789.7 178.7 C792.8 178.3 796.4 177.4 799.7 176.6 C803.0 175.8 806.4 174.8 809.7 174.1 C813.0 173.3 816.6 172.5 819.7 172.1 C822.8 171.6 825.5 171.4 828.3 171.3 C831.2 171.2 834.8 171.5 836.6 171.6 C838.5 171.7 838.0 171.6 839.7 171.9 C841.3 172.2 843.5 172.8 846.6 173.3 C849.7 173.8 854.4 174.0 858.3 175.0 C862.2 175.9 866.3 178.0 869.9 179.1 C873.5 180.3 876.6 181.2 879.9 182.0 C883.3 182.7 886.0 183.2 889.9 183.6 C893.8 184.0 899.4 184.1 903.2 184.4 C907.1 184.8 909.3 185.1 913.2 185.8 C917.1 186.4 922.1 187.7 926.5 188.3 C931.0 188.9 935.4 189.0 939.9 189.4 C944.3 189.9 949.3 190.2 953.2 190.8 C957.1 191.4 959.8 191.8 963.2 192.9 C966.5 194.0 969.8 195.7 973.2 197.4 C976.5 199.2 980.1 201.5 983.1 203.3 C986.2 205.0 988.7 206.7 991.5 207.9 C994.2 209.2 997.0 209.9 999.8 210.8 C1002.6 211.6 1005.3 212.2 1008.1 213.2 C1010.9 214.3 1013.7 216.0 1016.4 216.9 C1019.2 217.8 1022.0 218.0 1024.8 218.6 C1027.5 219.1 1030.3 219.5 1033.1 220.2 C1035.9 221.0 1038.6 222.0 1041.4 223.2 C1044.2 224.4 1046.7 225.9 1049.7 227.4 C1052.8 228.9 1056.4 230.8 1059.7 232.4 C1063.0 234.0 1066.7 235.5 1069.7 236.9 C1072.8 238.3 1075.3 239.8 1078.0 240.7 C1080.8 241.6 1083.3 241.7 1086.4 242.4 C1089.4 243.0 1093.0 243.7 1096.3 244.5 C1099.7 245.4 1102.4 246.3 1106.3 247.4 C1110.2 248.4 1114.8 249.0 1119.8 250.8 C1124.8 252.6 1130.9 255.6 1136.5 258.3 C1142.0 261.0 1147.6 264.4 1153.1 267.0 C1158.7 269.5 1164.2 271.3 1169.8 273.6 C1175.3 275.9 1181.4 278.5 1186.4 280.8 C1191.4 283.1 1195.8 285.8 1199.7 287.4 C1203.6 289.1 1206.4 290.1 1209.7 290.8 C1213.0 291.5 1216.9 291.3 1219.7 291.6 C1222.5 291.9 1223.6 292.5 1226.4 292.8 C1229.1 293.0 1233.0 292.1 1236.3 292.9 C1239.7 293.7 1242.4 295.6 1246.3 297.4 C1250.3 299.3 1256.0 301.5 1260.0 304.1 C1264.0 306.6 1266.9 310.1 1270.4 312.6 C1273.9 315.2 1277.5 317.3 1281.1 319.3 C1284.6 321.3 1288.1 323.0 1291.7 324.6 C1295.2 326.1 1298.8 327.1 1302.3 328.6 C1305.9 330.1 1309.9 332.4 1313.0 333.5 C1316.1 334.6 1318.3 334.3 1320.9 335.2 C1323.6 336.1 1326.0 337.4 1328.9 338.8 C1331.8 340.3 1335.1 341.8 1338.2 343.9 C1341.3 345.9 1344.4 348.5 1347.5 351.2 C1350.6 353.8 1353.7 357.0 1356.8 359.8 C1359.9 362.7 1363.0 366.0 1366.1 368.5 C1369.2 371.0 1372.8 373.0 1375.5 374.7 C1378.1 376.4 1381.0 378.0 1382.1 378.7"/>
<text x="19.6" y="82" font-size="15.1" fill="#676b78" font-weight="bold" textLength="294" lengthAdjust="spacingAndGlyphs" fill-opacity="0.95">U.S. Dollar / Canadian Dollar, 1h, FXCM</text>
<line x1="9" y1="521.5" x2="1722" y2="521.5" stroke="#ef4444" stroke-width="1" stroke-dasharray="1 2" shape-rendering="crispEdges"/>
</g>
<g fill="none" stroke="#6f7380" stroke-width="1.3" shape-rendering="crispEdges">
<rect x="8.5" y="55.5" width="1788" height="793"/>
<line x1="8.5" y1="812.5" x2="1796.5" y2="812.5"/>
<line x1="1721.5" y1="55.5" x2="1721.5" y2="848.5"/>
</g>
<g fill="#555a66" font-size="14.4">
<rect x="1722" y="97.7" width="5" height="1.2" fill="#6f7380"/>
<text x="1733" y="104.8" textLength="51.6" lengthAdjust="spacingAndGlyphs">1.30400</text>
<rect x="1722" y="144.4" width="5" height="1.2" fill="#6f7380"/>
<text x="1733" y="151.5" textLength="51.6" lengthAdjust="spacingAndGlyphs">1.30200</text>
<rect x="1722" y="191.0" width="5" height="1.2" fill="#6f7380"/>
<text x="1733" y="198.1" textLength="51.6" lengthAdjust="spacingAndGlyphs">1.30000</text>
<rect x="1722" y="237.7" width="5" height="1.2" fill="#6f7380"/>
<text x="1733" y="244.8" textLength="51.6" lengthAdjust="spacingAndGlyphs">1.29800</text>
<rect x="1722" y="284.3" width="5" height="1.2" fill="#6f7380"/>
<text x="1733" y="291.4" textLength="51.6" lengthAdjust="spacingAndGlyphs">1.29600</text>
<rect x="1722" y="331.0" width="5" height="1.2" fill="#6f7380"/>
<text x="1733" y="338.1" textLength="51.6" lengthAdjust="spacingAndGlyphs">1.29400</text>
<rect x="1722" y="377.7" width="5" height="1.2" fill="#6f7380"/>
<text x="1733" y="384.8" textLength="51.6" lengthAdjust="spacingAndGlyphs">1.29200</text>
<rect x="1722" y="424.3" width="5" height="1.2" fill="#6f7380"/>
<text x="1733" y="431.4" textLength="51.6" lengthAdjust="spacingAndGlyphs">1.29000</text>
<rect x="1722" y="471.0" width="5" height="1.2" fill="#6f7380"/>
<text x="1733" y="478.1" textLength="51.6" lengthAdjust="spacingAndGlyphs">1.28800</text>
<rect x="1722" y="517.6" width="5" height="1.2" fill="#6f7380"/>
<text x="1733" y="524.7" textLength="51.6" lengthAdjust="spacingAndGlyphs">1.28600</text>
<rect x="1722" y="564.3" width="5" height="1.2" fill="#6f7380"/>
<text x="1733" y="571.4" textLength="51.6" lengthAdjust="spacingAndGlyphs">1.28400</text>
<rect x="1722" y="611.0" width="5" height="1.2" fill="#6f7380"/>
<text x="1733" y="618.1" textLength="51.6" lengthAdjust="spacingAndGlyphs">1.28200</text>
<rect x="1722" y="657.6" width="5" height="1.2" fill="#6f7380"/>
<text x="1733" y="664.7" textLength="51.6" lengthAdjust="spacingAndGlyphs">1.28000</text>
<rect x="1722" y="704.3" width="5" height="1.2" fill="#6f7380"/>
<text x="1733" y="711.4" textLength="51.6" lengthAdjust="spacingAndGlyphs">1.27800</text>
<rect x="1722" y="750.9" width="5" height="1.2" fill="#6f7380"/>
<text x="1733" y="758.0" textLength="51.6" lengthAdjust="spacingAndGlyphs">1.27600</text>
<rect x="1722" y="797.6" width="5" height="1.2" fill="#6f7380"/>
<text x="1733" y="804.7" textLength="51.6" lengthAdjust="spacingAndGlyphs">1.27400</text>
</g>
<rect x="1739.5" y="64.5" width="39" height="24" rx="4.5" fill="#fff" stroke="#d5d8e0" stroke-width="1"/>
<text x="1745.6" y="80.9" font-size="14.8" fill="#555a66" textLength="26.6" lengthAdjust="spacingAndGlyphs">CAD</text>
<rect x="1721" y="319.0" width="75.4" height="21" fill="#b71c1c"/>
<rect x="1721" y="328.6" width="5" height="1.1" fill="#fff"/>
<text x="1733.2" y="334.0" font-size="14.8" font-weight="bold" fill="#fff" textLength="51" lengthAdjust="spacingAndGlyphs">1.29410</text>
<rect x="1721" y="341.0" width="75.4" height="21" fill="#f44336"/>
<rect x="1721" y="350.6" width="5" height="1.1" fill="#fff"/>
<text x="1733.2" y="356.0" font-size="14.8" font-weight="bold" fill="#fff" textLength="51" lengthAdjust="spacingAndGlyphs">1.29410</text>
<rect x="1721" y="398.0" width="75.4" height="21" fill="#b71c1c"/>
<rect x="1721" y="407.6" width="5" height="1.1" fill="#fff"/>
<text x="1733.2" y="413.0" font-size="14.8" font-weight="bold" fill="#fff" textLength="51" lengthAdjust="spacingAndGlyphs">1.29070</text>
<rect x="1721" y="511.0" width="75.4" height="21" fill="#4f4f4f"/>
<rect x="1721" y="520.6" width="5" height="1.1" fill="#fff"/>
<text x="1733.2" y="526.0" font-size="14.8" font-weight="bold" fill="#fff" textLength="51" lengthAdjust="spacingAndGlyphs">1.28585</text>
<rect x="1721" y="533.0" width="75.4" height="21" fill="#ef5350"/>
<rect x="1721" y="542.6" width="5" height="1.1" fill="#fff"/>
<text x="1733.2" y="548.0" font-size="14.8" font-weight="bold" fill="#fff" textLength="51" lengthAdjust="spacingAndGlyphs">1.28585</text>
<rect x="1744" y="555" width="52.4" height="21" fill="#ef5350"/>
<text x="1749" y="570.2" font-size="14.8" font-weight="bold" fill="#fff" textLength="36.5" lengthAdjust="spacingAndGlyphs">40:39</text>
<rect x="1721" y="661.0" width="75.4" height="21" fill="#b71c1c"/>
<rect x="1721" y="670.6" width="5" height="1.1" fill="#fff"/>
<text x="1733.2" y="676.0" font-size="14.8" font-weight="bold" fill="#fff" textLength="51" lengthAdjust="spacingAndGlyphs">1.27940</text>
<rect x="1721" y="684.0" width="75.4" height="21" fill="#12f72c"/>
<rect x="1721" y="693.6" width="5" height="1.1" fill="#0a0a0a"/>
<text x="1733.2" y="699.0" font-size="14.8" stroke="#0a0a0a" stroke-width="0.45" fill="#0a0a0a" textLength="51" lengthAdjust="spacingAndGlyphs">1.27940</text>
<g fill="#555a66" font-size="14.4" text-anchor="middle">
<rect x="96.8" y="813" width="1.2" height="4" fill="#6f7380"/>
<text x="96.9" y="837.2">19</text>
<rect x="214.4" y="813" width="1.2" height="4" fill="#6f7380"/>
<text x="214.5" y="837.2">20</text>
<rect x="332.0" y="813" width="1.2" height="4" fill="#6f7380"/>
<text x="332.1" y="837.2">23</text>
<rect x="449.6" y="813" width="1.2" height="4" fill="#6f7380"/>
<text x="449.7" y="837.2">24</text>
<rect x="567.2" y="813" width="1.2" height="4" fill="#6f7380"/>
<text x="567.3" y="837.2">25</text>
<rect x="684.8" y="813" width="1.2" height="4" fill="#6f7380"/>
<text x="684.9" y="837.2">26</text>
<rect x="802.4" y="813" width="1.2" height="4" fill="#6f7380"/>
<text x="802.5" y="837.2">27</text>
<rect x="920.0" y="813" width="1.2" height="4" fill="#6f7380"/>
<text x="920.1" y="837.2">30</text>
<rect x="1037.6" y="813" width="1.2" height="4" fill="#6f7380"/>
<text x="1037.7" y="837.2" font-weight="bold" textLength="25.6" lengthAdjust="spacingAndGlyphs">Dec</text>
<rect x="1155.2" y="813" width="1.2" height="4" fill="#6f7380"/>
<text x="1155.3" y="837.2">2</text>
<rect x="1272.8" y="813" width="1.2" height="4" fill="#6f7380"/>
<text x="1272.9" y="837.2">3</text>
<rect x="1390.4" y="813" width="1.2" height="4" fill="#6f7380"/>
<text x="1390.5" y="837.2">4</text>
<rect x="1508.0" y="813" width="1.2" height="4" fill="#6f7380"/>
<text x="1508.1" y="837.2">7</text>
<rect x="1625.6" y="813" width="1.2" height="4" fill="#6f7380"/>
<text x="1625.7" y="837.2">8</text>
</g>
<g id="tvlogo">
<g fill="#2196f3"><circle cx="13.6" cy="875.2" r="5.8"/><circle cx="21.6" cy="868.8" r="6.8"/><circle cx="33" cy="874" r="7.1"/><rect x="13.6" y="869" width="19.4" height="12.1"/></g>
<path d="M9.2 878.4 L19.9 869 L27.7 876.3 L36.8 868.4" fill="none" stroke="#fff" stroke-width="1.7" stroke-linejoin="round"/>
<circle cx="19.9" cy="869" r="2.1" fill="#fff"/><circle cx="27.7" cy="876.3" r="2.1" fill="#fff"/>
</g>
<text x="41.9" y="876.5" font-size="15.1" fill="#1c202b" textLength="89.4" lengthAdjust="spacingAndGlyphs">TradingView</text>
</svg></body></html>
